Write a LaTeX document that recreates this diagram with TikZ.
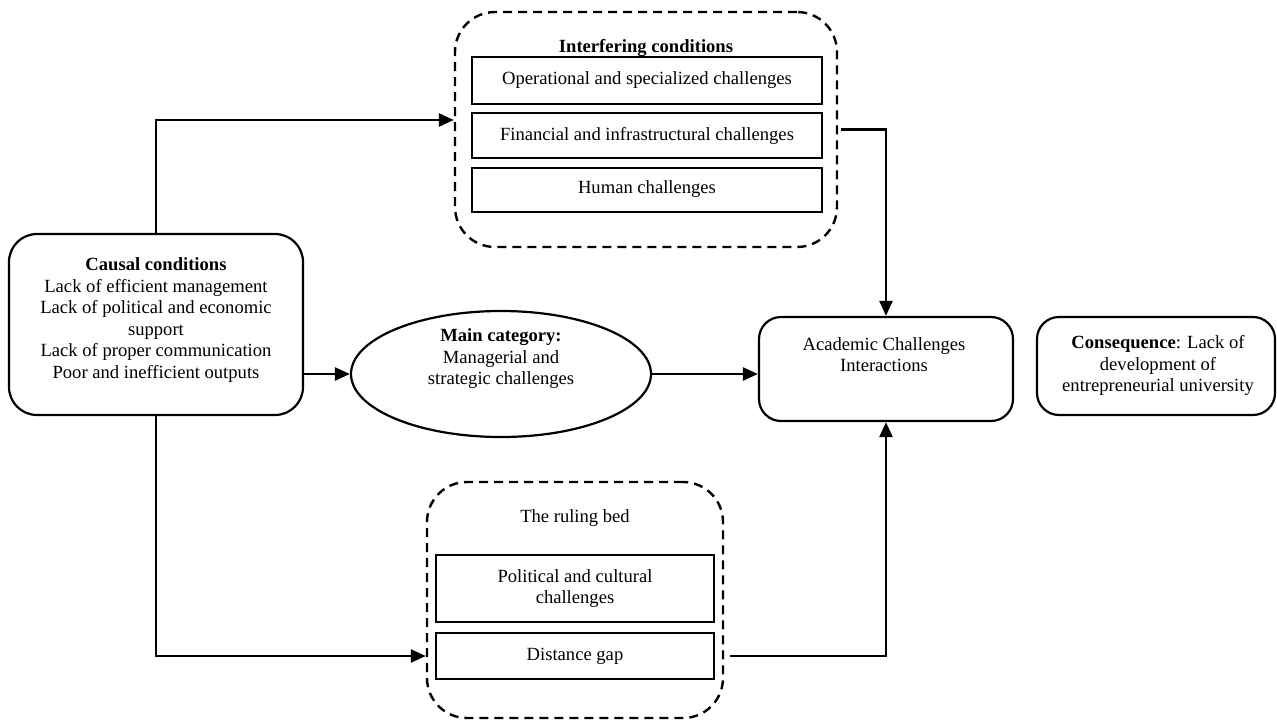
\documentclass[tikz,border=0pt]{standalone}
\usepackage{fontspec}
\setmainfont{Liberation Serif}
\usetikzlibrary{shapes.geometric,arrows.meta,calc}
\newcommand{\dfont}{\fontsize{18.6pt}{21.5pt}\selectfont}
\begin{document}
\begin{tikzpicture}[x=1pt,y=-1pt,
  rbox/.style={draw, line width=2.2pt, rounded corners=28pt, inner sep=0pt},
  dbox/.style={draw, line width=2.4pt, dash pattern=on 9pt off 6pt, rounded corners=40pt, inner sep=0pt},
  sbox/.style={draw, line width=2pt, inner sep=0pt, align=center, font=\dfont},
  ellbox/.style={draw, ellipse, line width=2.2pt, inner sep=0pt},
  txt/.style={align=center, font=\dfont, inner sep=0pt},
  arr/.style={-{Triangle[length=15pt,width=13pt]}, line width=2.5pt}
]
\useasboundingbox (0,0) rectangle (1277,720);

% Causal conditions
\node[rbox, minimum width=294pt, minimum height=181pt] (causal) at (156,324.5) {};
\node[txt] (causaltxt) at (156,320) {\textbf{Causal conditions}\\ Lack of efficient management\\ Lack of political and economic\\ support\\ Lack of proper communication\\ Poor and inefficient outputs};

% Interfering conditions
\node[dbox, minimum width=382pt, minimum height=235pt] (intf) at (646,129.5) {};
\node[txt, anchor=base] (intftitle) at (646,52) {\textbf{Interfering conditions}};
\node[sbox, minimum width=350pt, minimum height=47pt] (op) at (647,80.5) {Operational and specialized challenges};
\node[sbox, minimum width=350pt, minimum height=45pt] (fin) at (647,135.5) {Financial and infrastructural challenges};
\node[sbox, minimum width=350pt, minimum height=44pt] (hum) at (647,189.5) {Human challenges};

% Main category
\node[ellbox, minimum width=300pt, minimum height=126pt] (ell) at (501,374) {};
\node[txt] (elltxt) at (501,359) {\textbf{Main category:}\\ Managerial and\\ strategic challenges};

% Academic challenges
\node[rbox, rounded corners=22pt, minimum width=254pt, minimum height=104pt] (acad) at (886,369) {};
\node[txt] (acadtxt) at (884,354.5) {Academic Challenges\\ Interactions};

% Consequence
\node[rbox, rounded corners=22pt, minimum width=238pt, minimum height=98pt] (cons) at (1156,366) {};
\node[txt] (constxt) at (1158,365.5) {\textbf{Consequence}: Lack of\\ development of\\ entrepreneurial university};

% The ruling bed
\node[dbox, minimum width=296pt, minimum height=236pt] (bed) at (575,600) {};
\node[txt, anchor=base] (bedtitle) at (575,522) {The ruling bed};
\node[sbox, minimum width=278pt, minimum height=67pt] (pol) at (575,588.5) {Political and cultural\\ challenges};
\node[sbox, minimum width=278pt, minimum height=46pt] (gap) at (575,656) {Distance gap};

% Connectors
\draw[arr] (causal.north) |- ($(intf.west)+(0,-9.5)$);
\draw[arr, shorten <=3pt] (intf.east) -| (acad.north);
\draw[arr] (causal.east |- ell.west) -- (ell.west);
\draw[arr] (ell.east) -- (acad.west |- ell.east);
\draw[arr] (causal.south) |- (bed.west |- gap.west);
\draw[arr, shorten <=6pt] (bed.east |- gap.east) -| (acad.south);
\end{tikzpicture}
\end{document}
